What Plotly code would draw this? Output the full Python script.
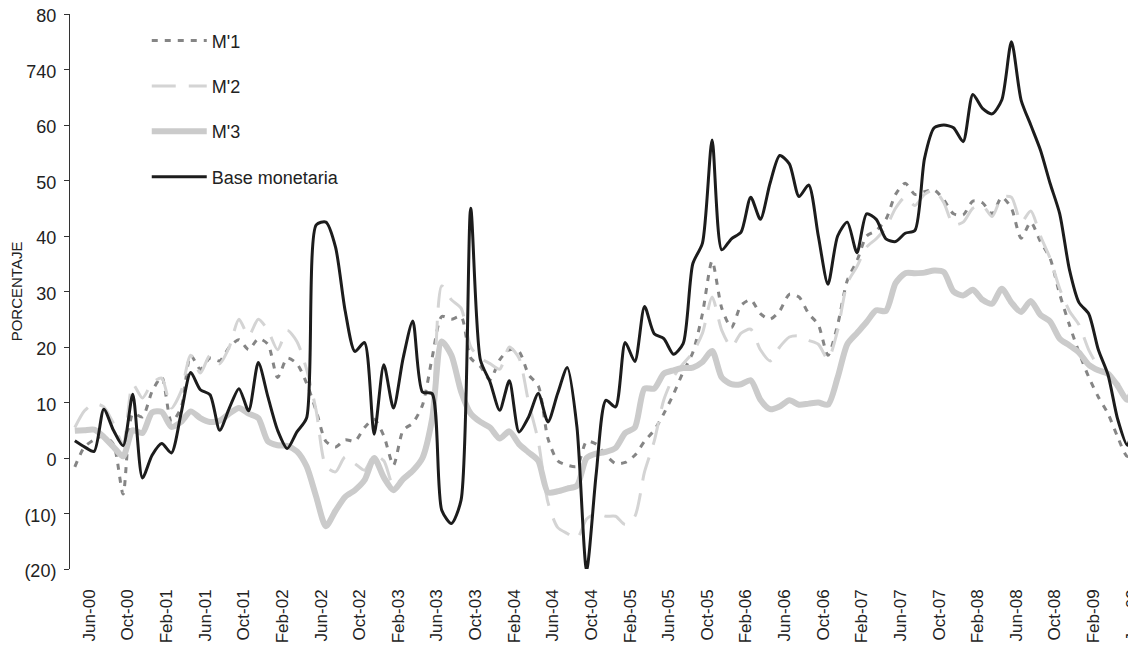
import plotly.graph_objects as go

# ---------------- data (monthly) ----------------
tick_labels = ["Jun-00", "Oct-00", "Feb-01", "Jun-01", "Oct-01", "Feb-02", "Jun-02",
               "Oct-02", "Feb-03", "Jun-03", "Oct-03", "Feb-04", "Jun-04", "Oct-04",
               "Feb-05", "Jun-05", "Oct-05", "Feb-06", "Jun-06", "Oct-06", "Feb-07",
               "Jun-07", "Oct-07", "Feb-08", "Jun-08", "Oct-08", "Feb-09", "Jun-09"]

m1 = [-1.6, 2.0, 3.3, 4.0, 2.5, -6.5, 8.0, 7.4, 12.0, 14.6,
      6.5, 9.0, 18.5, 16.0, 18.0, 17.5, 20.0, 21.3, 19.5, 21.5,
      20.5, 14.5, 18.0, 17.0, 13.5, 8.5, 3.0, 2.0, 3.3, 3.0,
      5.5, 7.0, 4.0, -1.3, 5.0, 6.3, 9.5, 18.0, 25.5, 25.0,
      25.5, 18.0, 16.5, 14.1, 17.7, 19.5, 19.2, 15.0, 13.0, 3.5,
      -0.5, -1.3, -1.5, 3.0, 2.5, 0.5, -1.0, -0.8, 0.5, 3.0,
      5.0, 8.0, 11.5, 15.5, 19.0, 26.0, 35.5, 27.0, 23.5, 27.5,
      28.5, 26.0, 25.0, 26.5, 29.5, 29.0, 26.0, 24.0, 18.5, 24.0,
      32.0, 35.5, 40.0, 41.0, 43.0, 47.5, 49.5, 47.5, 48.0, 48.3,
      46.5, 44.0, 43.8, 46.3, 46.0, 44.0, 47.0, 45.0, 39.6, 42.5,
      39.0, 36.0, 29.5, 24.0, 19.0, 14.6, 11.0, 8.0, 3.8, 0.3, 1.5]

m2 = [5.5, 8.5, 9.8, 9.2, 6.2, 2.5, 13.3, 10.8, 13.5, 14.4,
      9.0, 12.0, 18.5, 15.3, 18.5, 17.0, 20.0, 25.0, 22.0, 25.0,
      23.0, 19.5, 23.0, 21.0, 16.0, 8.5, -1.5, -2.5, 0.2, -1.0,
      -2.2, 0.5, -0.5, -5.0, -3.5, -2.0, 0.5, 8.0, 31.0, 28.5,
      27.0, 20.0, 18.0, 17.0, 16.0, 20.0, 18.0, 10.0, 3.0, -8.0,
      -12.5, -13.6, -14.5, -11.0, -10.0, -10.5, -10.5, -12.0, -10.5, -2.5,
      3.0, 10.5, 14.6, 17.0, 19.0, 22.5, 29.0, 23.0, 20.0, 22.5,
      23.2, 19.5, 17.5, 20.0, 21.8, 22.0, 21.2, 20.5, 17.8, 23.0,
      31.5, 34.5, 38.0, 39.5, 41.5, 45.0, 47.0, 45.5, 47.5, 48.3,
      46.0, 42.0, 42.5, 45.0, 45.5, 43.5, 47.0, 47.0, 42.5, 44.5,
      40.0, 36.0, 30.5, 26.5, 24.0, 19.5, 16.5, 14.8, 13.5, 11.7, 14.5]

m3 = [4.9, 5.0, 5.1, 3.8, 2.0, 0.3, 5.0, 4.5, 8.2, 8.3,
      5.6, 6.5, 8.4, 7.2, 6.5, 6.7, 8.0, 9.0, 8.0, 7.2,
      3.0, 2.3, 2.2, 1.2, -1.5, -7.0, -12.3, -9.5, -7.0, -5.8,
      -4.0, 0.0, -3.5, -5.8, -3.8, -2.3, 0.0, 7.0, 21.0, 18.5,
      12.0, 8.0, 6.5, 5.5, 3.5, 4.8, 2.5, 1.0, -0.5, -6.2,
      -6.0, -5.5, -5.0, 0.0, 0.8, 1.1, 1.8, 4.5, 5.5, 12.5,
      12.5, 15.2, 15.8, 16.2, 16.3, 17.3, 19.3, 14.5, 13.3, 13.3,
      14.0, 10.5, 8.8, 9.3, 10.4, 9.6, 9.8, 10.0, 9.6, 14.5,
      20.5, 22.5, 24.5, 26.6, 26.5, 31.5, 33.3, 33.3, 33.4, 33.8,
      33.5, 30.0, 29.3, 30.3, 28.5, 27.8, 30.5, 28.0, 26.3, 28.3,
      25.8, 24.6, 21.5, 20.3, 19.0, 16.8, 15.8, 15.2, 13.0, 10.5, 14.5]

base = [3.1, 2.0, 1.2, 8.8, 5.0, 2.2, 11.5, -3.6, 0.5, 2.6,
        0.9, 8.0, 15.4, 12.3, 11.4, 5.0, 9.0, 12.5, 8.5, 17.2,
        11.0, 5.0, 1.7, 4.7, 7.2, 42.0, 42.5, 38.0, 26.5, 19.2,
        20.8, 4.3, 16.8, 9.0, 18.0, 24.7, 11.9, 11.6, -9.4, -11.8,
        -7.6, 45.0, 17.7, 13.7, 8.6, 13.9, 4.7, 7.4, 11.6, 6.5,
        11.6, 16.3, 5.6, -20.2, -2.8, 10.4, 9.2, 20.8, 17.4, 27.3,
        22.4, 21.5, 18.7, 20.6, 35.0, 38.7, 57.3, 37.5, 39.5, 40.7,
        47.0, 43.0, 49.5, 54.5, 53.0, 47.1, 49.2, 40.0, 31.3, 40.0,
        42.5, 37.0, 44.0, 43.0, 39.5, 39.0, 40.5, 41.0, 54.0, 59.5,
        60.0, 59.5, 57.0, 65.5, 63.0, 62.0, 64.5, 75.0, 64.5, 60.0,
        55.5, 49.5, 44.0, 34.0, 28.0, 26.0, 19.5, 15.0, 7.0, 2.3, 10.0]

y_tick_vals = [80, 70, 60, 50, 40, 30, 20, 10, 0, -10, -20]
y_tick_text = ["80", "740", "60", "50", "40", "30", "20", "10", "0", "(10)", "(20)"]

series_names = ["M'1", "M'2", "M'3", "Base monetaria"]

# ---------------- figure ----------------
idx = list(range(len(base)))
tick_pos = [1.5 + 4 * k for k in range(len(tick_labels))]
x_range = [-0.5, 109.9]

fig = go.Figure()
styles = [
    dict(color="#858585", width=3, dash="6px,7px"),
    dict(color="#d4d4d4", width=3, dash="24px,13px"),
    dict(color="#cbcbcb", width=6),
    dict(color="#1c1c1c", width=3),
]
for k, (name, vals) in enumerate(zip(series_names, [m1, m2, m3, base])):
    fig.add_trace(go.Scatter(
        x=idx, y=vals, name=name, mode="lines",
        line=dict(shape="spline", smoothing=0.7, **styles[k]),
        legendgroup=name, hoverinfo="skip",
    ))

# the page shows the figure with an 8px body offset, margins compensate for it
fig.update_layout(
    width=1136, height=650,
    margin=dict(l=62, r=8, t=6, b=89, autoexpand=False),
    paper_bgcolor="white", plot_bgcolor="rgba(0,0,0,0)",
    font=dict(family="Liberation Sans, Arial, sans-serif", color="#222222"),
    showlegend=True,
    legend=dict(x=0.072, y=0.985, xanchor="left", yanchor="top",
                tracegroupgap=19, traceorder="grouped",
                font=dict(size=18), bgcolor="rgba(0,0,0,0)", itemwidth=55),
    xaxis=dict(range=x_range, tickmode="array", tickvals=tick_pos, ticktext=tick_labels,
               tickangle=-90, showline=False, ticks="", showgrid=False, zeroline=False,
               automargin=False, ticklabeloverflow="allow",
               tickfont=dict(size=17, color="#222222"), ticklabelstandoff=16),
    yaxis=dict(range=[-20, 80], tickmode="array", tickvals=y_tick_vals, ticktext=y_tick_text,
               showline=True, linecolor="#333333", linewidth=1, ticks="outside",
               ticklen=5, tickcolor="#333333", showgrid=False, zeroline=False,
               automargin=False, ticklabeloverflow="allow", ticklabelshift=2,
               tickfont=dict(size=18, color="#222222"), ticklabelstandoff=4,
               title=dict(text="PORCENTAJE", font=dict(size=15, color="#222222"), standoff=4)),
    xaxis2=dict(anchor="y2", range=x_range, showline=True, linecolor="#666666", linewidth=1.5,
                ticks="outside", tickmode="linear", tick0=0.5, dtick=1, ticklen=6,
                tickcolor="#555555", tickwidth=1, showticklabels=False,
                showgrid=False, zeroline=False, automargin=False),
    yaxis2=dict(anchor="x2", domain=[0.2, 1], range=[0, 1], visible=False, automargin=False),
)

fig.write_html("out.html")
